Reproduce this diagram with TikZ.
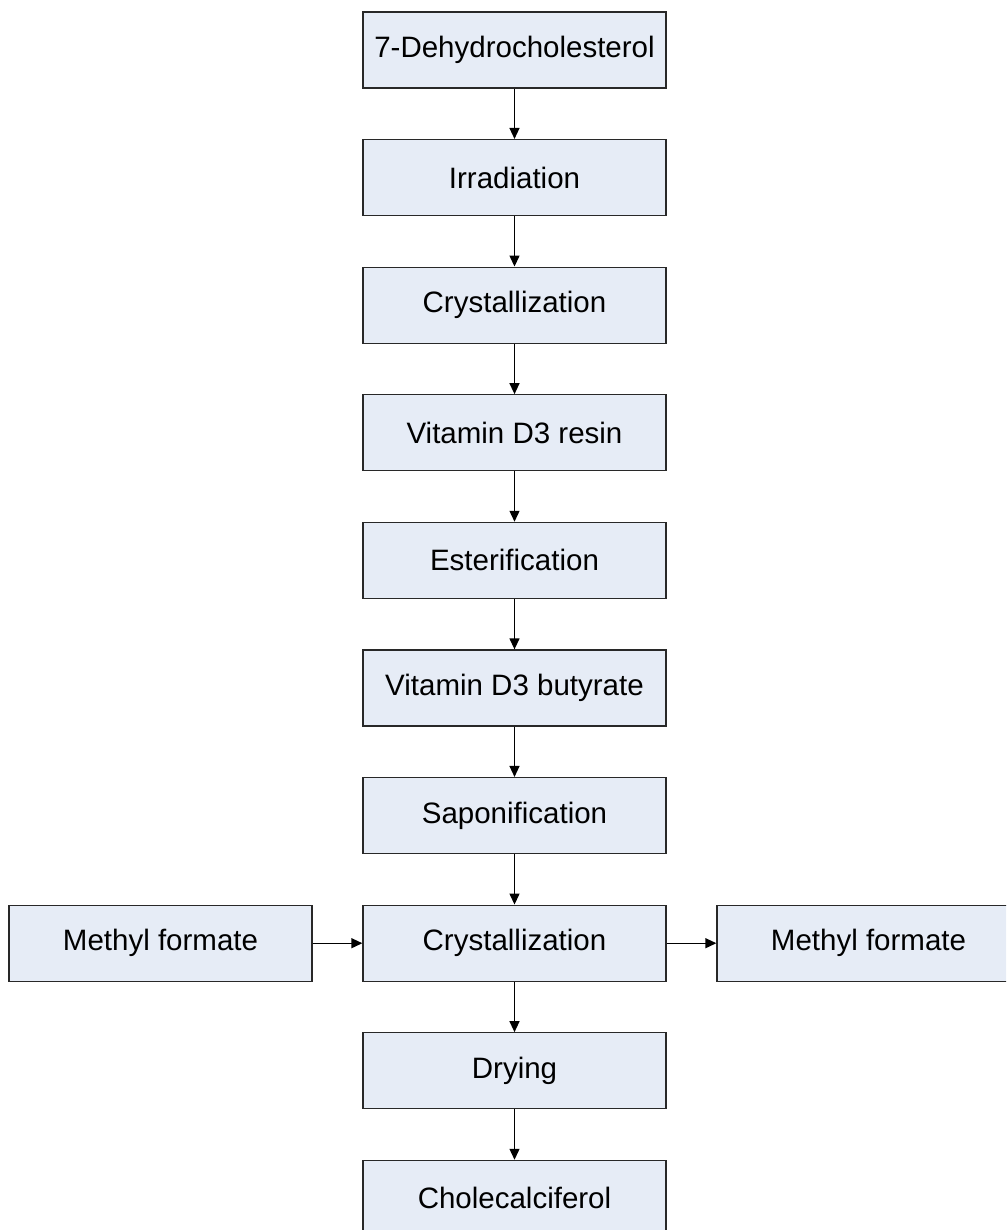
\documentclass[tikz,border=0pt]{standalone}
\usepackage{fontspec}
\setmainfont{Liberation Sans}
\usetikzlibrary{arrows.meta}
\definecolor{boxfill}{RGB}{230,236,246}
\definecolor{boxline}{RGB}{40,40,40}
\tikzset{
  stepbox/.style={draw=boxline, line width=1.3pt, fill=boxfill, minimum width=303pt, minimum height=76pt, inner sep=0pt, font=\fontsize{29.5}{35}\selectfont, text=black},
  flow/.style={draw=black, line width=1.3pt, -{Triangle[length=11pt,width=10pt]}}
}
\begin{document}
\begin{tikzpicture}[x=1pt,y=1pt]
\useasboundingbox (0,0) rectangle (1006,-1230);
\clip (0,0) rectangle (1006,-1230);
\node[stepbox] (n1) at (514.5,-50) {7-Dehydrocholesterol};
\node[stepbox] (n2) at (514.5,-177.6) {Irradiation};
\node[stepbox] (n3) at (514.5,-305.2) {Crystallization};
\node[stepbox] (n4) at (514.5,-432.8) {Vitamin D3 resin};
\node[stepbox] (n5) at (514.5,-560.4) {Esterification};
\node[stepbox] (n6) at (514.5,-688) {Vitamin D3 butyrate};
\node[stepbox] (n7) at (514.5,-815.6) {Saponification};
\node[stepbox] (n8) at (514.5,-943.2) {Crystallization};
\node[stepbox] (n9) at (514.5,-1070.8) {Drying};
\node[stepbox] (n10) at (514.5,-1198.4) {Cholecalciferol};
\node[stepbox] (mfl) at (160.5,-943.2) {Methyl formate};
\node[stepbox] (mfr) at (868.5,-943.2) {Methyl formate};
\draw[flow] (n1) -- (n2);
\draw[flow] (n2) -- (n3);
\draw[flow] (n3) -- (n4);
\draw[flow] (n4) -- (n5);
\draw[flow] (n5) -- (n6);
\draw[flow] (n6) -- (n7);
\draw[flow] (n7) -- (n8);
\draw[flow] (n8) -- (n9);
\draw[flow] (n9) -- (n10);
\draw[flow] (mfl) -- (n8);
\draw[flow] (n8) -- (mfr);
\end{tikzpicture}
\end{document}
